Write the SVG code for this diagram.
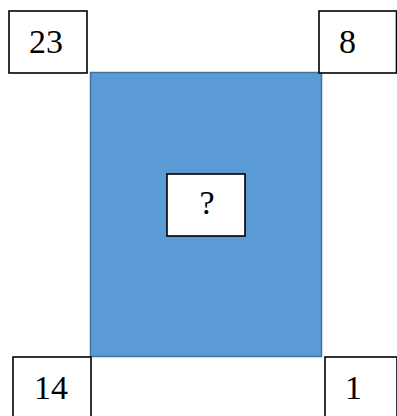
<svg xmlns="http://www.w3.org/2000/svg" width="397" height="416" viewBox="0 0 397 416">
<style>
.box{fill:#fff;stroke:#000;stroke-width:1.6}
.lbl{font-family:"Liberation Serif","Times New Roman",serif;font-size:34px;fill:#000}
</style>
<rect width="397" height="416" fill="#fff"/>
<g id="square"><rect x="90.5" y="72.5" width="231" height="284" fill="#5B9BD5" stroke="#41719C" stroke-width="1.5"/></g>
<g id="n23"><rect class="box" x="9" y="11" width="78" height="62"/><text class="lbl" x="29" y="53">23</text></g>
<g id="n8"><rect class="box" x="319" y="11" width="77.5" height="62"/><text class="lbl" x="339" y="53">8</text></g>
<g id="n14"><rect class="box" x="13" y="357" width="78" height="62"/><text class="lbl" x="34" y="399">14</text></g>
<g id="n1"><rect class="box" x="325" y="357" width="72" height="62"/><text class="lbl" x="345" y="399">1</text></g>
<g id="q"><rect class="box" x="167" y="174" width="78" height="62"/><text class="lbl" x="207" y="214" text-anchor="middle">?</text></g>
<g id="connectors"/>
</svg>
